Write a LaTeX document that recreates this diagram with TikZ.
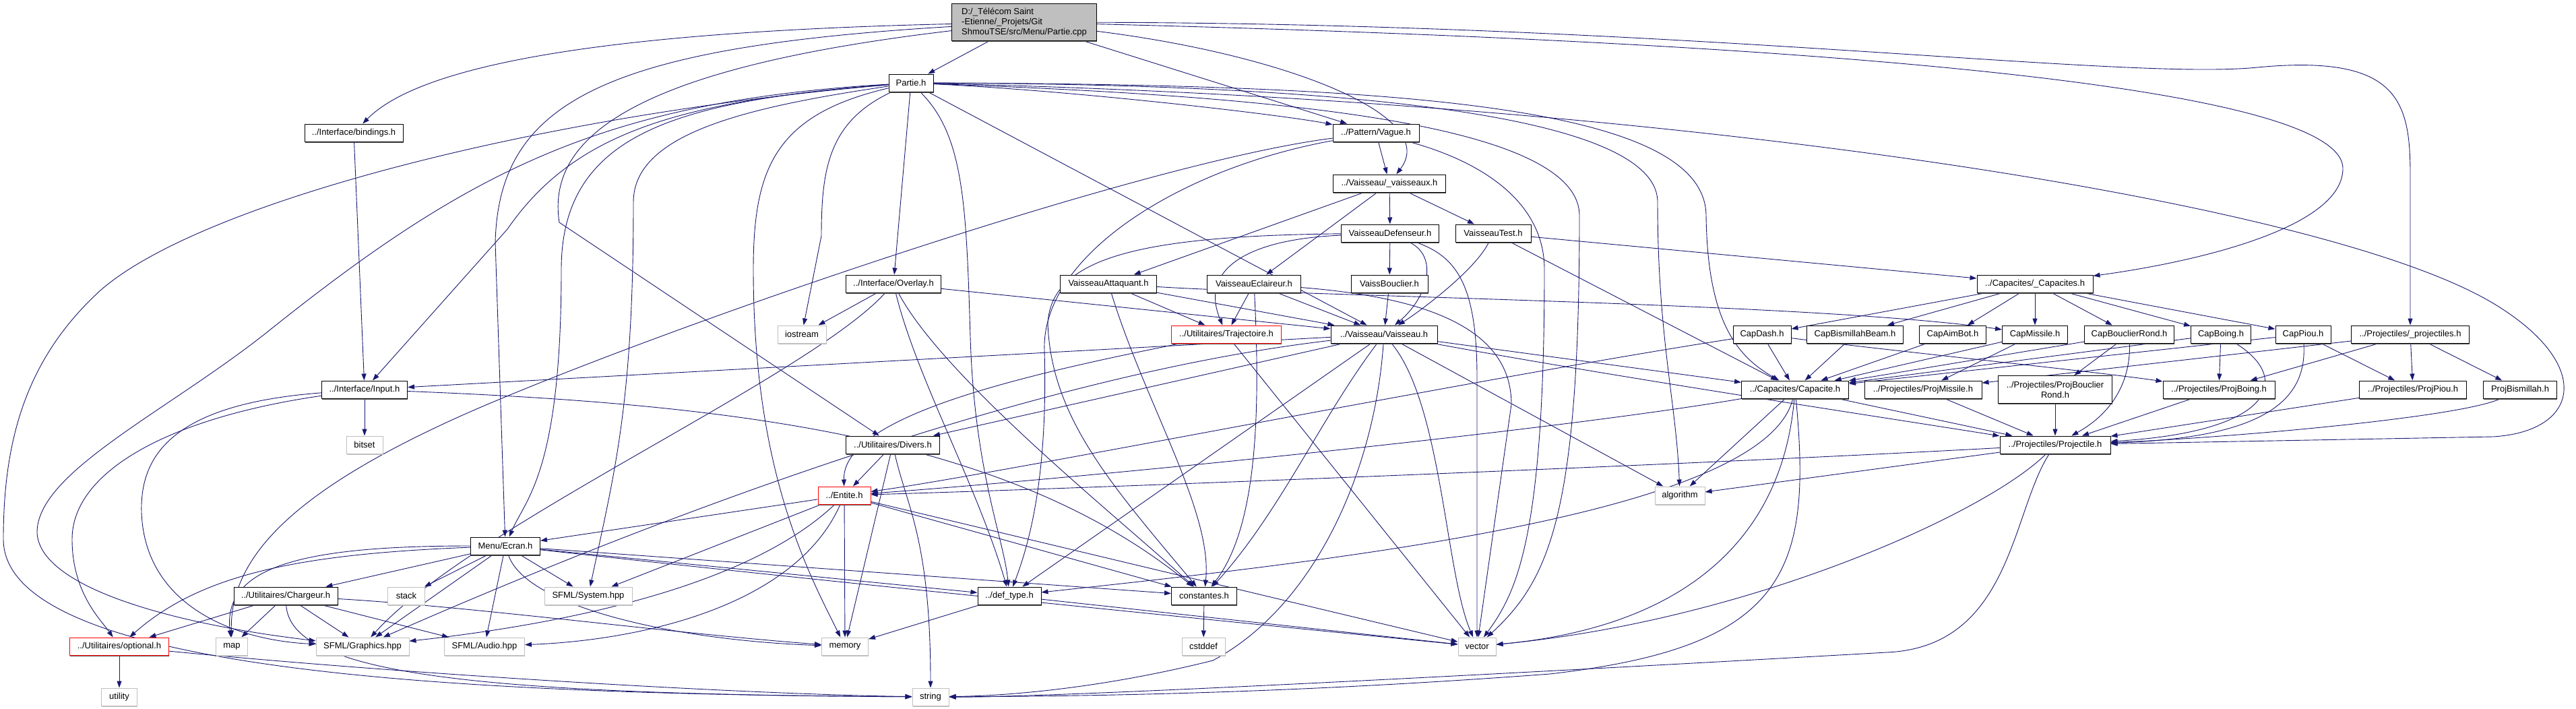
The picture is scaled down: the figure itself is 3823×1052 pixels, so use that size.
\documentclass[tikz,border=0pt]{standalone}
\usepackage{fontspec}
\setmainfont{Liberation Sans}
\usetikzlibrary{arrows.meta,backgrounds,shadows}
\definecolor{mblue}{HTML}{191970}
\definecolor{cppgray}{HTML}{BFBFBF}
\definecolor{sysgray}{HTML}{BFBFBF}
\tikzset{
  box/.style={draw=black, fill=white, line width=1pt, minimum height=26pt, inner xsep=3pt, inner ysep=2pt, font=\fontsize{13}{15}\selectfont,
    drop shadow={shadow xshift=0.8pt, shadow yshift=-1.6pt, fill=black!65, opacity=1}},
  sysbox/.style={draw=sysgray, fill=white, line width=1pt, minimum height=26pt, inner xsep=3pt, inner ysep=2pt, font=\fontsize{13}{15}\selectfont,
    drop shadow={shadow xshift=0.8pt, shadow yshift=-1.6pt, fill=black!25, opacity=1}},
  redbox/.style={box, draw=red},
  e/.style={draw=mblue, line width=0.9pt, -{Triangle[length=10pt,width=7pt]}}
}
\begin{document}
\begin{tikzpicture}[x=1pt,y=-1pt]
\useasboundingbox (0,0) rectangle (3823,1052);
% nodes
\node[box,fill=cppgray,align=left,minimum width=215,minimum height=55] (cpp) at (1520,33) {D:/\_Télécom Saint\\-Etienne/\_Projets/Git\\ ShmouTSE/src/Menu/Partie.cpp};
\node[box,minimum width=66] (partie) at (1352,123) {Partie.h};
\node[box,minimum width=146] (bind) at (525,197) {../Interface/bindings.h};
\node[box,minimum width=128] (vague) at (2042,197) {../Pattern/Vague.h};
\node[box,minimum width=167] (vx) at (2062,272) {../Vaisseau/\_vaisseaux.h};
\node[box,minimum width=145] (vdef) at (2063,346) {VaisseauDefenseur.h};
\node[box,minimum width=112] (vtest) at (2216,346) {VaisseauTest.h};
\node[box,minimum width=141] (overlay) at (1326,421) {../Interface/Overlay.h};
\node[box,minimum width=143] (vatt) at (1645,421) {VaisseauAttaquant.h};
\node[box,minimum width=139] (vecl) at (1861,421) {VaisseauEclaireur.h};
\node[box,minimum width=114] (vbouc) at (2062,421) {VaissBouclier.h};
\node[box,minimum width=172] (caps) at (3020,421) {../Capacites/\_Capacites.h};
\node[sysbox,minimum width=72] (iostream) at (1190,496) {iostream};
\node[redbox,minimum width=163] (traj) at (1820,496) {../Utilitaires/Trajectoire.h};
\node[box,minimum width=158] (vaiss) at (2054,496) {../Vaisseau/Vaisseau.h};
\node[box,minimum width=86] (capdash) at (2615,496) {CapDash.h};
\node[box,minimum width=143] (capbb) at (2753,496) {CapBismillahBeam.h};
\node[box,minimum width=99] (capaim) at (2898,496) {CapAimBot.h};
\node[box,minimum width=97] (capmis) at (3020,496) {CapMissile.h};
\node[box,minimum width=133] (capbr) at (3160,496) {CapBouclierRond.h};
\node[box,minimum width=89] (capboing) at (3296,496) {CapBoing.h};
\node[box,minimum width=82] (cappiou) at (3418,496) {CapPiou.h};
\node[box,minimum width=175] (projs) at (3577,496) {../Projectiles/\_projectiles.h};
\node[box,minimum width=127] (input) at (541,578) {../Interface/Input.h};
\node[box,minimum width=159] (capacite) at (2664,578) {../Capacites/Capacite.h};
\node[box,minimum width=174] (pmis) at (2854,578) {../Projectiles/ProjMissile.h};
\node[box,minimum width=169,minimum height=41,align=center] (pbr) at (3050,578) {../Projectiles/ProjBouclier\\Rond.h};
\node[box,minimum width=166] (pboing) at (3293,578) {../Projectiles/ProjBoing.h};
\node[box,minimum width=159] (ppiou) at (3581,578) {../Projectiles/ProjPiou.h};
\node[box,minimum width=109] (pbism) at (3740,578) {ProjBismillah.h};
\node[sysbox,minimum width=54] (bitset) at (541,660) {bitset};
\node[box,minimum width=139] (divers) at (1325,660) {../Utilitaires/Divers.h};
\node[box,minimum width=164] (projectile) at (3050,660) {../Projectiles/Projectile.h};
\node[redbox,minimum width=78] (entite) at (1253,735) {../Entite.h};
\node[sysbox,minimum width=74] (algo) at (2493,735) {algorithm};
\node[box,minimum width=103] (ecran) at (750,810) {Menu/Ecran.h};
\node[box,minimum width=154] (charg) at (424,884) {../Utilitaires/Chargeur.h};
\node[sysbox,minimum width=55] (stack) at (603,884) {stack};
\node[sysbox,minimum width=130] (sysh) at (873,884) {SFML/System.hpp};
\node[box,minimum width=94] (defty) at (1498,884) {../def\_type.h};
\node[box,minimum width=97] (cst) at (1787,884) {constantes.h};
\node[redbox,minimum width=147] (opt) at (177,959) {../Utilitaires/optional.h};
\node[sysbox,minimum width=47] (map) at (344,959) {map};
\node[sysbox,minimum width=138] (gfx) at (538,959) {SFML/Graphics.hpp};
\node[sysbox,minimum width=119] (audio) at (719,959) {SFML/Audio.hpp};
\node[sysbox,minimum width=69] (memory) at (1254,959) {memory};
\node[sysbox,minimum width=56] (vector) at (2192,959) {vector};
\node[sysbox,minimum width=64] (cstddef) at (1786,959) {cstddef};
\node[sysbox,minimum width=53] (utility) at (177,1034) {utility};
\node[sysbox,minimum width=54] (string) at (1381,1034) {string};
\begin{pgfonlayer}{background}
% Partie.cpp
\draw[e] (cpp) -- (partie);
\draw[e] (cpp) .. controls (1000,45) and (640,80) .. (bind);
\draw[e] (cpp) .. controls (900,70) and (740,150) .. (735,360) -- (ecran);
\draw[e] (cpp) .. controls (950,100) and (810,200) .. (830,330) -- (divers);
\draw[e] (cpp) -- (vague);
\draw[e] (cpp) .. controls (1900,80) and (2140,170) .. (vx);
\draw[e] (cpp) .. controls (2600,60) and (3477,120) .. (3477,250) .. controls (3477,340) and (3250,390) .. (caps);
\draw[e] (cpp) .. controls (2500,35) and (3150,120) .. (3350,100) .. controls (3560,80) and (3577,150) .. (3577,260) -- (projs);
\draw[e] (bind) -- (input);
% Partie.h
\draw[e] (partie) .. controls (1000,150) and (850,200) .. (753,340) -- (input);
\draw[e] (partie) .. controls (900,150) and (700,250) .. (400,490) .. controls (250,610) and (55,700) .. (55,790) .. controls (58,870) and (250,925) .. (gfx);
\draw[e] (partie) .. controls (800,170) and (300,300) .. (150,430) .. controls (40,530) and (5,650) .. (5,800) .. controls (5,1000) and (700,1030) .. (string);
\draw[e] (partie) .. controls (1000,150) and (833,200) .. (833,400) .. controls (833,700) and (780,740) .. (ecran);
\draw[e] (partie) .. controls (1100,160) and (940,200) .. (940,300) .. controls (940,600) and (912,700) .. (sysh);
\draw[e] (partie) .. controls (1230,180) and (1219,250) .. (1219,350) -- (iostream);
\draw[e] (partie) .. controls (1150,170) and (1118,250) .. (1118,400) .. controls (1118,700) and (1200,850) .. (memory);
\draw[e] (partie) -- (overlay);
\draw[e] (partie) .. controls (1430,200) and (1434,300) .. (1440,500) .. controls (1446,700) and (1490,800) .. (defty);
\draw[e] (partie) -- (vaiss);
\draw[e] (partie) .. controls (1600,135) and (1900,170) .. (vague);
\draw[e] (partie) .. controls (1800,140) and (2344,170) .. (2344,320) .. controls (2344,760) and (2300,860) .. (vector);
\draw[e] (partie) .. controls (2000,125) and (2460,170) .. (2460,300) .. controls (2460,500) and (2488,600) .. (algo);
\draw[e] (partie) .. controls (2100,125) and (2531,160) .. (2532,320) .. controls (2534,480) and (2580,530) .. (capacite);
\draw[e] (partie) .. controls (2500,150) and (3450,300) .. (3700,450) .. controls (3850,540) and (3830,640) .. (3700,648) -- (projectile);
% Vague.h
\draw[e] (vague) -- (vx);
\draw[e] (vague) .. controls (1700,240) and (1000,480) .. (700,610) .. controls (450,720) and (340,820) .. (map);
\draw[e] (vague) .. controls (1750,250) and (1545,380) .. (1550,520) .. controls (1555,700) and (1530,800) .. (defty);
\draw[e] (vague) .. controls (2200,240) and (2292,300) .. (2292,400) .. controls (2292,800) and (2250,880) .. (vector);
% _vaisseaux.h
\draw[e] (vx) -- (vdef);
\draw[e] (vx) -- (vtest);
\draw[e] (vx) -- (vatt);
\draw[e] (vx) -- (vecl);
% VaisseauDefenseur.h
\draw[e] (vdef) -- (vbouc);
\draw[e] (vdef) .. controls (2135,380) and (2120,440) .. (vaiss);
\draw[e] (vdef) .. controls (1850,355) and (1780,400) .. (traj);
\draw[e] (vdef) .. controls (2160,380) and (2192,420) .. (2192,560) -- (vector);
\draw[e] (vdef) .. controls (1700,350) and (1560,380) .. (1555,480) .. controls (1560,620) and (1650,720) .. (cst);
% VaisseauTest.h
\draw[e] (vtest) .. controls (2190,400) and (2110,460) .. (vaiss);
\draw[e] (vtest) -- (caps);
\draw[e] (vtest) -- (capacite);
% VaisseauAttaquant.h
\draw[e] (vatt) -- (traj);
\draw[e] (vatt) -- (vaiss);
\draw[e] (vatt) .. controls (1950,440) and (2700,450) .. (capmis);
\draw[e] (vatt) .. controls (1700,600) and (1800,760) .. (cst);
% VaisseauEclaireur.h
\draw[e] (vecl) -- (traj);
\draw[e] (vecl) -- (vaiss);
\draw[e] (vecl) .. controls (2100,440) and (2243,480) .. (2243,600) -- (vector);
\draw[e] (vecl) .. controls (1870,600) and (1868,780) .. (cst);
\draw[e] (vbouc) -- (vaiss);
% Trajectoire.h
\draw[e] (traj) -- (vector);
\draw[e] (traj) .. controls (1500,560) and (1250,620) .. (entite);
% Overlay.h
\draw[e] (overlay) -- (iostream);
\draw[e] (overlay) -- (vaiss);
\draw[e] (overlay) .. controls (1200,560) and (700,780) .. (gfx);
\draw[e] (overlay) .. controls (1360,560) and (1450,720) .. (defty);
\draw[e] (overlay) .. controls (1400,560) and (1650,760) .. (cst);
% Vaisseau.h
\draw[e] (vaiss) -- (input);
\draw[e] (vaiss) -- (divers);
\draw[e] (vaiss) -- (capacite);
\draw[e] (vaiss) .. controls (2400,560) and (2800,620) .. (projectile);
\draw[e] (vaiss) -- (algo);
\draw[e] (vaiss) .. controls (2140,600) and (2145,850) .. (vector);
\draw[e] (vaiss) .. controls (2040,700) and (1950,900) .. (1800,980) .. controls (1600,1030) and (1450,1033) .. (string);
\draw[e] (vaiss) -- (defty);
\draw[e] (vaiss) .. controls (1960,620) and (1900,760) .. (cst);
\draw[e] (vaiss) .. controls (1500,560) and (900,800) .. (gfx);
% Divers.h
\draw[e] (divers) -- (entite);
\draw[e] (divers) -- (memory);
\draw[e] (divers) .. controls (1345,750) and (1381,800) .. (string);
% Entite.h
\draw[e] (entite) -- (ecran);
\draw[e] (entite) -- (sysh);
\draw[e] (entite) .. controls (1100,880) and (800,930) .. (gfx);
\draw[e] (entite) .. controls (1180,900) and (950,950) .. (audio);
\draw[e] (entite) -- (memory);
\draw[e] (entite) -- (cst);
\draw[e] (entite) -- (vector);
% Menu/Ecran.h
\draw[e] (ecran) -- (charg);
\draw[e] (ecran) -- (stack);
\draw[e] (ecran) -- (sysh);
\draw[e] (ecran) -- (gfx);
\draw[e] (ecran) -- (audio);
\draw[e] (ecran) .. controls (450,810) and (330,840) .. (map);
\draw[e] (ecran) .. controls (450,822) and (300,850) .. (opt);
\draw[e] (ecran) .. controls (780,900) and (1000,950) .. (memory);
\draw[e] (ecran) -- (defty);
\draw[e] (ecran) -- (cst);
\draw[e] (ecran) .. controls (1200,860) and (1800,920) .. (vector);
% Chargeur.h
\draw[e] (charg) -- (opt);
\draw[e] (charg) -- (map);
\draw[e] (charg) -- (gfx);
\draw[e] (charg) -- (audio);
\draw[e] (charg) .. controls (430,1000) and (700,1030) .. (string);
\draw[e] (charg) .. controls (700,900) and (1000,940) .. (memory);
% optional.h
\draw[e] (opt) -- (utility);
\draw[e] (opt) .. controls (600,1000) and (1100,1030) .. (string);
% def_type, constantes
\draw[e] (defty) -- (memory);
\draw[e] (defty) -- (vector);
\draw[e] (cst) -- (cstddef);
% Input.h
\draw[e] (input) -- (bitset);
\draw[e] (input) .. controls (250,620) and (107,700) .. (107,800) .. controls (107,880) and (150,920) .. (opt);
\draw[e] (input) .. controls (250,600) and (208,680) .. (210,760) .. controls (215,900) and (350,950) .. (gfx);
\draw[e] (input) .. controls (1100,600) and (1500,650) .. (cst);
% _Capacites.h
\draw[e] (caps) -- (capdash);
\draw[e] (caps) -- (capbb);
\draw[e] (caps) -- (capaim);
\draw[e] (caps) -- (capmis);
\draw[e] (caps) -- (capbr);
\draw[e] (caps) -- (capboing);
\draw[e] (caps) -- (cappiou);
% Capacite.h
\draw[e] (capacite) .. controls (2300,640) and (1600,710) .. (entite);
\draw[e] (capacite) -- (algo);
\draw[e] (capacite) .. controls (2620,760) and (2000,830) .. (defty);
\draw[e] (capacite) .. controls (2645,800) and (2500,930) .. (vector);
\draw[e] (capacite) .. controls (2690,850) and (2650,960) .. (2300,1000) .. controls (1900,1030) and (1600,1033) .. (string);
\draw[e] (capacite) -- (projectile);
% Cap*.h
\draw[e] (capdash) -- (capacite);
\draw[e] (capdash) .. controls (2200,560) and (1500,700) .. (entite);
\draw[e] (capdash) .. controls (2800,520) and (3100,550) .. (pboing);
\draw[e] (capbb) -- (capacite);
\draw[e] (capaim) -- (capacite);
\draw[e] (capmis) -- (capacite);
\draw[e] (capmis) -- (pmis);
\draw[e] (capbr) -- (capacite);
\draw[e] (capbr) -- (pbr);
\draw[e] (capbr) .. controls (3162,560) and (3140,610) .. (projectile);
\draw[e] (capboing) -- (capacite);
\draw[e] (capboing) -- (pboing);
\draw[e] (capboing) .. controls (3400,560) and (3380,640) .. (projectile);
\draw[e] (cappiou) -- (capacite);
\draw[e] (cappiou) -- (ppiou);
\draw[e] (cappiou) .. controls (3425,600) and (3350,650) .. (projectile);
% _projectiles.h
\draw[e] (projs) -- (pmis);
\draw[e] (projs) -- (pboing);
\draw[e] (projs) -- (ppiou);
\draw[e] (projs) -- (pbism);
% Proj*.h
\draw[e] (pmis) -- (projectile);
\draw[e] (pbr) -- (projectile);
\draw[e] (pboing) -- (projectile);
\draw[e] (ppiou) -- (projectile);
\draw[e] (pbism) .. controls (3650,620) and (3300,650) .. (projectile);
% Projectile.h
\draw[e] (projectile) .. controls (2500,690) and (1600,725) .. (entite);
\draw[e] (projectile) -- (algo);
\draw[e] (projectile) .. controls (2950,760) and (2600,920) .. (vector);
\draw[e] (projectile) .. controls (2985,760) and (2985,960) .. (2800,968) .. controls (2500,985) and (1600,1035) .. (string);
\end{pgfonlayer}
\end{tikzpicture}
\end{document}
